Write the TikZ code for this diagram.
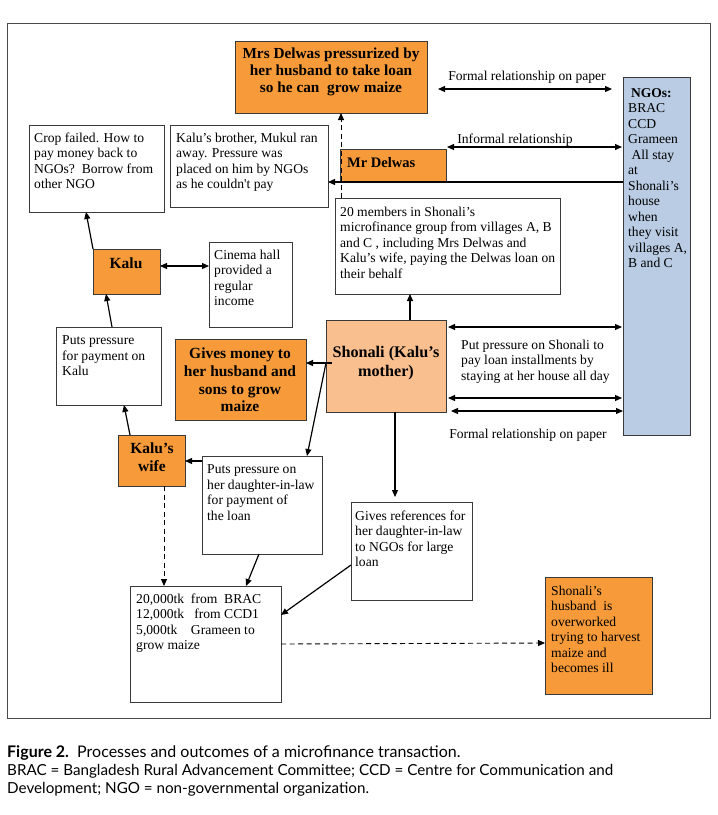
\documentclass[tikz,border=0pt]{standalone}
\usepackage{fontspec}
\setmainfont{Liberation Serif}
\newfontfamily\capfont{Lato}
\usetikzlibrary{arrows.meta,calc}
\definecolor{orng}{HTML}{F69A3A}
\definecolor{lorng}{HTML}{F9BF8F}
\definecolor{ngoblue}{HTML}{B9CCE4}
\definecolor{bord}{HTML}{3A3A3A}
\definecolor{framec}{HTML}{4A4A4A}
\begin{document}
\begin{tikzpicture}[x=1pt,y=-1pt,
 box/.style={draw=bord, line width=0.9pt, anchor=north west, inner sep=0pt, outer sep=0pt},
 wbox/.style={box, fill=white},
 obox/.style={box, fill=orng},
 txt/.style={anchor=north west, inner sep=0pt, align=left, font=\fontsize{13.6}{15.5}\selectfont},
 btxt/.style={inner sep=0pt, align=center, font=\bfseries\fontsize{15.5}{17.7}\selectfont},
 lbl/.style={inner sep=0pt, font=\fontsize{13.6}{15.5}\selectfont},
 conn/.style={line width=1.2pt, -{Triangle[length=7pt,width=6pt]}},
 dconn/.style={conn, line width=0.9pt, dash pattern=on 5pt off 3.5pt},
 bconn/.style={line width=1.2pt, {Triangle[length=7pt,width=6pt]}-{Triangle[length=7pt,width=6pt]}},
]
\useasboundingbox (0,0) rectangle (718,815);
\fill[white] (0,0) rectangle (718,815);
\node[draw=framec, line width=1.2pt, anchor=north west, inner sep=0pt, minimum width=703pt, minimum height=695pt] (frame) at (7,23) {};

% boxes
\node[obox, minimum width=192pt, minimum height=72pt] (mrsd) at (235,41) {};
\node[wbox, minimum width=135pt, minimum height=87pt] (crop) at (29,125) {};
\node[wbox, minimum width=158pt, minimum height=82pt] (bro) at (170,125) {};
\node[obox, minimum width=106pt, minimum height=33pt] (mrd) at (340,149) {};
\node[wbox, minimum width=225pt, minimum height=96pt] (members) at (335,198) {};
\node[box, fill=ngoblue, minimum width=67pt, minimum height=358pt] (ngo) at (623,77) {};
\node[wbox, minimum width=83pt, minimum height=85pt] (cinema) at (209,242) {};
\node[obox, minimum width=67pt, minimum height=45pt] (kalu) at (93,249) {};
\node[wbox, minimum width=105pt, minimum height=78pt] (pfp) at (56,327) {};
\node[obox, minimum width=131pt, minimum height=81pt] (gives) at (175,339) {};
\node[box, fill=lorng, minimum width=120pt, minimum height=92pt] (shonali) at (326,320) {};
\node[obox, minimum width=67pt, minimum height=51pt] (kwife) at (118,435) {};
\node[wbox, minimum width=120pt, minimum height=98pt] (daughter) at (202,456) {};
\node[wbox, minimum width=121pt, minimum height=98pt] (refs) at (351,502) {};
\node[wbox, minimum width=151pt, minimum height=116pt] (loan) at (130,586) {};
\node[obox, minimum width=107pt, minimum height=117pt] (husband) at (545,577) {};

% texts
\node[btxt, font=\bfseries\fontsize{15.3}{17}\selectfont] (tmrsd) at (331,72) {Mrs Delwas pressurized by\\her husband to take loan\\so he can\ \ grow maize};
\node[txt] (tcrop) at (34,132.5) {Crop failed. How to\\pay money back to\\NGOs?\ \ Borrow from\\other NGO};
\node[txt] (tbro) at (176,132.5) {Kalu’s brother, Mukul ran\\away. Pressure was\\placed on him by NGOs\\as he couldn\textquotesingle t pay};
\node[btxt, anchor=west, font=\bfseries\fontsize{14.5}{17}\selectfont] (tmrd) at (347,163) {Mr Delwas};
\node[txt] (tmembers) at (340,206.5) {20 members in Shonali’s\\microfinance group from villages A, B\\and C , including Mrs Delwas and\\Kalu’s wife, paying the Delwas loan on\\their behalf};
\node[btxt, anchor=west, font=\bfseries\fontsize{13.5}{15.5}\selectfont] (tngoh) at (631,93) {NGOs:};
\node[txt] (tngo) at (628,103.5) {BRAC\\CCD\\Grameen\\\ All stay\\at\\Shonali’s\\house\\when\\they visit\\villages A,\\B and C};
\node[txt] (tcinema) at (214,249.5) {Cinema hall\\provided a\\regular\\income};
\node[btxt] (tkalu) at (126,263) {Kalu};
\node[txt] (tpfp) at (62,335.5) {Puts pressure\\for payment on\\Kalu};
\node[btxt] (tgives) at (240,380) {Gives money to\\her husband and\\sons to grow\\maize};
\node[btxt, font=\bfseries\fontsize{16.2}{19}\selectfont] (tshonali) at (386,363) {Shonali (Kalu’s\\mother)};
\node[btxt] (tkwife) at (152,457) {Kalu’s\\wife};
\node[txt] (tdaughter) at (207,464.5) {Puts pressure on\\her daughter-in-law\\for payment of\\the loan};
\node[txt] (trefs) at (355,510.5) {Gives references for\\her daughter-in-law\\to NGOs for large\\loan};
\node[txt] (tloan) at (136,593.5) {20,000tk\ \ from\ \ BRAC\\12,000tk\ \ \ from CCD1\\5,000tk\ \ \ \ Grameen to\\grow maize};
\node[txt] (thusband) at (551,585.5) {Shonali’s\\husband\ \ is\\overworked\\trying to harvest\\maize and\\becomes ill};

% edge labels
\node[lbl] (lformal1) at (527,77) {Formal relationship on paper};
\node[lbl] (linformal) at (515,140) {Informal relationship};
\node[txt] (lpressure) at (461,339.5) {Put pressure on Shonali to\\pay loan installments by\\staying at her house all day};
\node[lbl] (lformal2) at (528,435) {Formal relationship on paper};

% connectors
\draw[conn] (kalu.north west) -- ($(crop.south west)+(57,0)$);
\draw[conn] ($(pfp.north west)+(56,0)$) -- ($(kalu.south west)+(13,0)$);
\draw[conn] ($(kwife.north west)+(12,0)$) -- ($(pfp.south west)+(68,0)$);
\draw[bconn] ($(kalu.north east)+(0,17)$) -- ($(cinema.north west)+(0,24)$);
\draw[conn] ($(shonali.north west)+(6,43)$) -- ($(gives.north east)+(0,24)$);
\draw[conn] ($(shonali.north west)+(0,43)$) -- ($(daughter.north west)+(105,0)$);
\draw[conn] ($(daughter.north west)+(0,5)$) -- ($(kwife.north east)+(0,26)$);
\draw[dconn] ($(kwife.south west)+(46,0)$) -- ($(loan.north west)+(34,0)$);
\draw[conn] ($(daughter.south west)+(57,0)$) -- ($(loan.north west)+(116,0)$);
\draw[conn] ($(refs.north west)+(0,63)$) -- ($(loan.north east)+(0,29)$);
\draw[dconn] ($(loan.north east)+(0,58)$) -- ($(husband.north west)+(0,66)$);
\draw[conn] ($(shonali.south west)+(69,0)$) -- ($(refs.north west)+(44,-5)$);
\draw[conn] ($(shonali.north west)+(84,0)$) -- ($(members.south west)+(75,0)$);
\draw[dconn] ($(members.north west)+(6,0)$) -- ($(mrsd.south west)+(106,0)$);
\draw[conn] ($(ngo.north west)+(0,105)$) -- ($(bro.north east)+(0,57)$);
\draw[bconn] ($(mrsd.north east)+(11,48)$) -- ($(ngo.north west)+(-11,12)$);
\draw[bconn] ($(mrd.north east)+(1,-2)$) -- ($(ngo.north west)+(-1,70)$);
\draw[bconn] ($(shonali.north east)+(2,7)$) -- ($(ngo.north west)+(-1,250)$);
\draw[bconn] ($(shonali.north east)+(2,78)$) -- ($(ngo.north west)+(-1,321)$);
\draw[bconn] ($(shonali.north east)+(5,91)$) -- ($(ngo.north west)+(0,334)$);

% caption
\node[anchor=west, inner sep=0pt, font=\capfont\fontsize{16}{19}\selectfont] (cap1) at (7,753) {\textbf{Figure 2.}\ \ Processes and outcomes of a microfinance transaction.};
\node[anchor=north west, inner sep=0pt, align=left, font=\capfont\fontsize{15.2}{18.5}\selectfont] (cap2) at (7,764) {BRAC = Bangladesh Rural Advancement Committee; CCD = Centre for Communication and\\Development; NGO = non-governmental organization.};
\end{tikzpicture}
\end{document}
